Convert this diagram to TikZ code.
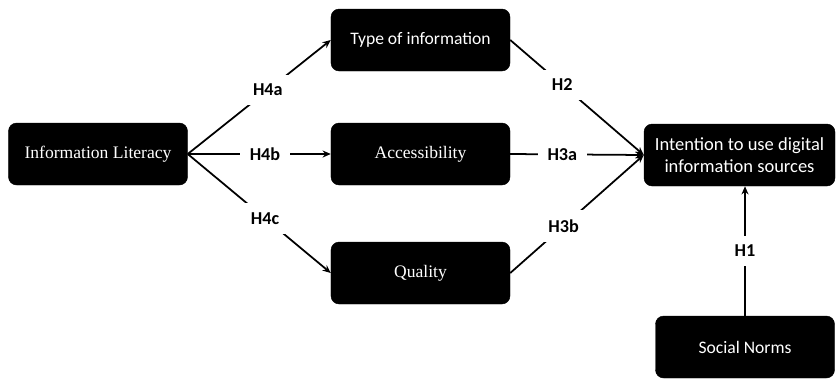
\documentclass[tikz,border=0pt]{standalone}
\usepackage{fontspec}
\setmainfont{Liberation Serif}
\newfontfamily\calfont{Carlito}
\usetikzlibrary{arrows.meta}

\begin{document}
\begin{tikzpicture}[x=0.03cm, y=-0.03cm,
    box/.style={rectangle, rounded corners=7pt, fill=black, draw=black,
                text=white, minimum width=5.37cm, minimum height=1.86cm,
                inner sep=2pt, font=\fontsize{15}{19}\selectfont},
    cbox/.style={box, font=\calfont\fontsize{15}{19}\selectfont},
    link/.style={draw=black, line width=1.5pt,
                 -{Stealth[length=7pt, width=6pt]}},
    hyp/.style={fill=white, inner sep=8pt,
                font=\calfont\bfseries\fontsize{15.5}{18}\selectfont}]
  % pixel grid of the reference, 836 x 379
  \useasboundingbox (0,0) rectangle (836,379);
  \def\xm{420.5}     % middle column
  % --- constructs -------------------------------------------------------
  \node[box]  (lit)  at (98,154)   {Information Literacy};
  \node[cbox] (typ)  at (\xm,40)   {Type of information};
  \node[box]  (acc)  at (\xm,154)  {Accessibility};
  \node[box]  (qual) at (\xm,273)  {Quality};
  \node[cbox, minimum width=5.73cm, align=center,
        font=\calfont\fontsize{15.8}{19}\selectfont] (intent) at (739.5,155)
    {Intention to use digital\\information sources};
  \node[cbox] (norms) at (745,347) {Social Norms};
  % --- hypotheses -------------------------------------------------------
  \draw[link] (lit.east) -- node[hyp, pos=0.56] {H4a} (typ.west);
  \draw[link] (lit.east) -- node[hyp, pos=0.54] {H4b} (acc.west);
  \draw[link] (lit.east) -- node[hyp, pos=0.54] {H4c} (qual.west);
  \draw[link] (typ.east)  -- node[hyp, pos=0.39] {H2}  (intent.west);
  \draw[link] (acc.east)  -- node[hyp, pos=0.39] {H3a} (intent.west);
  \draw[link] (qual.east) -- node[hyp, pos=0.40] {H3b} (intent.west);
  \draw[link] (norms.north) -- node[hyp] {H1} (norms.north |- intent.south);
\end{tikzpicture}
\end{document}
